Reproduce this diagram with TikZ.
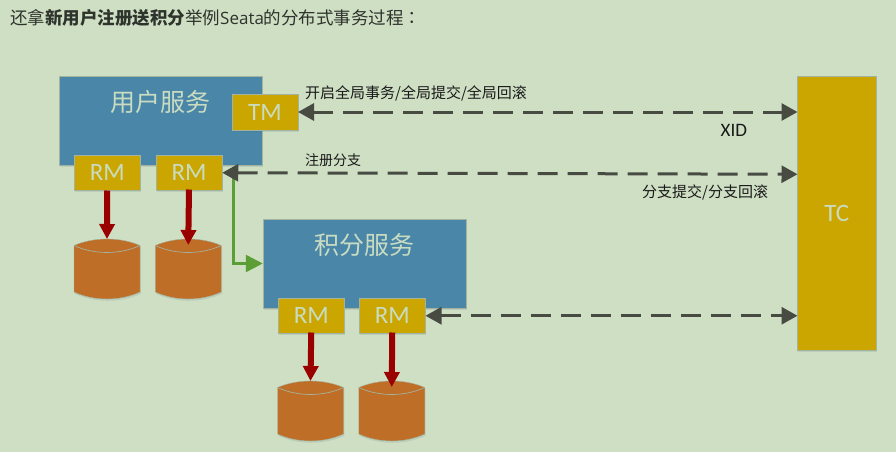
\documentclass[tikz,border=0pt]{standalone}
\usepackage{fontspec}
\setmainfont{Noto Sans CJK SC}
\newfontfamily\latinfont{Carlito}
\newfontfamily\seatafont{Open Sans}
\newfontfamily\tcfont{Noto Sans CJK TC}
\usetikzlibrary{arrows.meta,shadows,calc}
\definecolor{bgc}{HTML}{CFDFC4}
\definecolor{blueb}{HTML}{4A86A8}
\definecolor{goldb}{HTML}{CBA600}
\definecolor{orangeb}{HTML}{BF6E27}
\definecolor{redb}{HTML}{9B0000}
\definecolor{greenb}{HTML}{5B9E36}
\definecolor{darkb}{HTML}{474B42}
\definecolor{lightt}{HTML}{C9DCC2}
\definecolor{edgeb}{HTML}{A3B3A0}
\definecolor{titlec}{HTML}{2E332C}
\tikzset{
  softshadow/.style={drop shadow={shadow xshift=.8pt,shadow yshift=-1.8pt,opacity=.13,fill=blueb!70!black}},
  svc/.style={rectangle,fill=blueb,draw=edgeb,line width=.5pt,inner sep=0pt,outer sep=0pt,minimum width=203pt,minimum height=88.5pt,softshadow},
  gold/.style={rectangle,fill=goldb,draw=edgeb,line width=.4pt,inner sep=0pt,outer sep=0pt,softshadow,text=lightt,font=\latinfont\fontsize{25}{25}\selectfont},
  rmbox/.style={gold,minimum width=66.5pt,minimum height=35.5pt},
  svctitle/.style={text=lightt,inner sep=0pt,font=\fontsize{25}{25}\selectfont},
  lbl/.style={text=black!90,inner sep=0pt,font=\fontsize{15}{15}\selectfont},
  dbase/.style={rectangle,inner sep=0pt,outer sep=0pt,minimum width=66pt,minimum height=60pt},
  dbfill/.style={fill=orangeb,draw=edgeb,line width=.4pt,softshadow},
  dbline/.style={draw=edgeb,line width=.7pt},
  store/.style={draw=redb,line width=6pt,-{Triangle[length=15pt,width=15pt,fill=redb]}},
  link/.style={draw=darkb,line width=3pt,dash pattern=on 20pt off 10pt,{Triangle[length=16pt,width=17pt,fill=darkb]}-{Triangle[length=16pt,width=17pt,fill=darkb]}},
  reg/.style={draw=greenb,line width=2.6pt,-{Triangle[length=17pt,width=17pt,fill=greenb]}}
}
\newcommand{\drum}[1]{%
  \path[dbfill] ($(#1.north west)+(0,6.5)$) .. controls +(20,-8.7) and +(-20,-8.7) .. ($(#1.north east)+(0,6.5)$)
    -- ($(#1.south east)+(0,-7)$) .. controls +(-20,9.3) and +(20,9.3) .. ($(#1.south west)+(0,-7)$) -- cycle;
  \path[dbline] ($(#1.north west)+(0,6.5)$) .. controls +(20,9.3) and +(-20,9.3) .. ($(#1.north east)+(0,6.5)$);
}
\begin{document}
\begin{tikzpicture}[x=1pt,y=-1pt]
\useasboundingbox[fill=bgc] (0,0) rectangle (896,452);
\node[anchor=west,inner sep=0pt,text=titlec,font=\fontsize{17.5}{18}\selectfont] (title) at (10,17.5) {还拿\textbf{新用户注册送积分}举例{\seatafont\fontsize{17}{18}\selectfont Seata}的分布式事务过程{\tcfont ：}};

\node[svc] (usr) at (160.5,120.75) {};
\node[svctitle] (usrt) at (160.5,102) {用户服务};
\node[svc] (pts) at (364.25,263.5) {};
\node[svctitle] (ptst) at (364,245.5) {积分服务};

\node[gold,minimum width=66pt,minimum height=36pt] (tm) at (265,112) {TM};
\node[rmbox] (rma) at (107.25,172.75) {RM};
\node[rmbox] (rmb) at (189,172.75) {RM};
\node[rmbox] (rmc) at (311.25,315.75) {RM};
\node[rmbox] (rmd) at (392.25,315.75) {RM};
\node[gold,minimum width=78.5pt,minimum height=273.5pt] (tc) at (836.75,213.25) {TC};

\node[dbase] (dba) at (107,269) {};
\node[dbase] (dbb) at (188.25,269) {};
\node[dbase] (dbc) at (310.5,411) {};
\node[dbase] (dbd) at (391.75,411) {};
\drum{dba}\drum{dbb}\drum{dbc}\drum{dbd}

\draw[store] (rma.south) -- (dba.north);
\draw[store] ($(rmb.south)+(0,-1)$) -- ($(dbb.north)+(0,6)$);
\draw[store] ($(rmc.south)+(0,-1)$) -- (dbc.north);
\draw[store] ($(rmd.south)+(0,-1)$) -- ($(dbd.north)+(0,6)$);

\coordinate (branch) at ($(rmb.east)+(11,0)$);
\draw[reg] (branch) |- (pts.west);

\coordinate (tcA) at (tc.west |- tm.east);
\coordinate (tcB) at ($(tc.west |- rmb.east)+(0,1.5)$);
\coordinate (tcC) at (tc.west |- rmd.east);
\draw[link] (tm.east) -- (tcA);
\draw[link] (rmb.east) -- (tcB);
\draw[link] (rmd.east) -- (tcC);

\node[lbl,anchor=west] (l1) at (305,93) {开启全局事务/全局提交/全局回滚};
\node[lbl,anchor=west,font=\fontsize{14}{14}\selectfont] (l2) at (305,160) {注册分支};
\node[lbl,anchor=west] (l3) at (642,192.5) {分支提交/分支回滚};
\node[lbl,anchor=west,font=\latinfont\fontsize{19}{19}\selectfont] (l4) at (720.5,130) {XID};
\end{tikzpicture}
\end{document}
